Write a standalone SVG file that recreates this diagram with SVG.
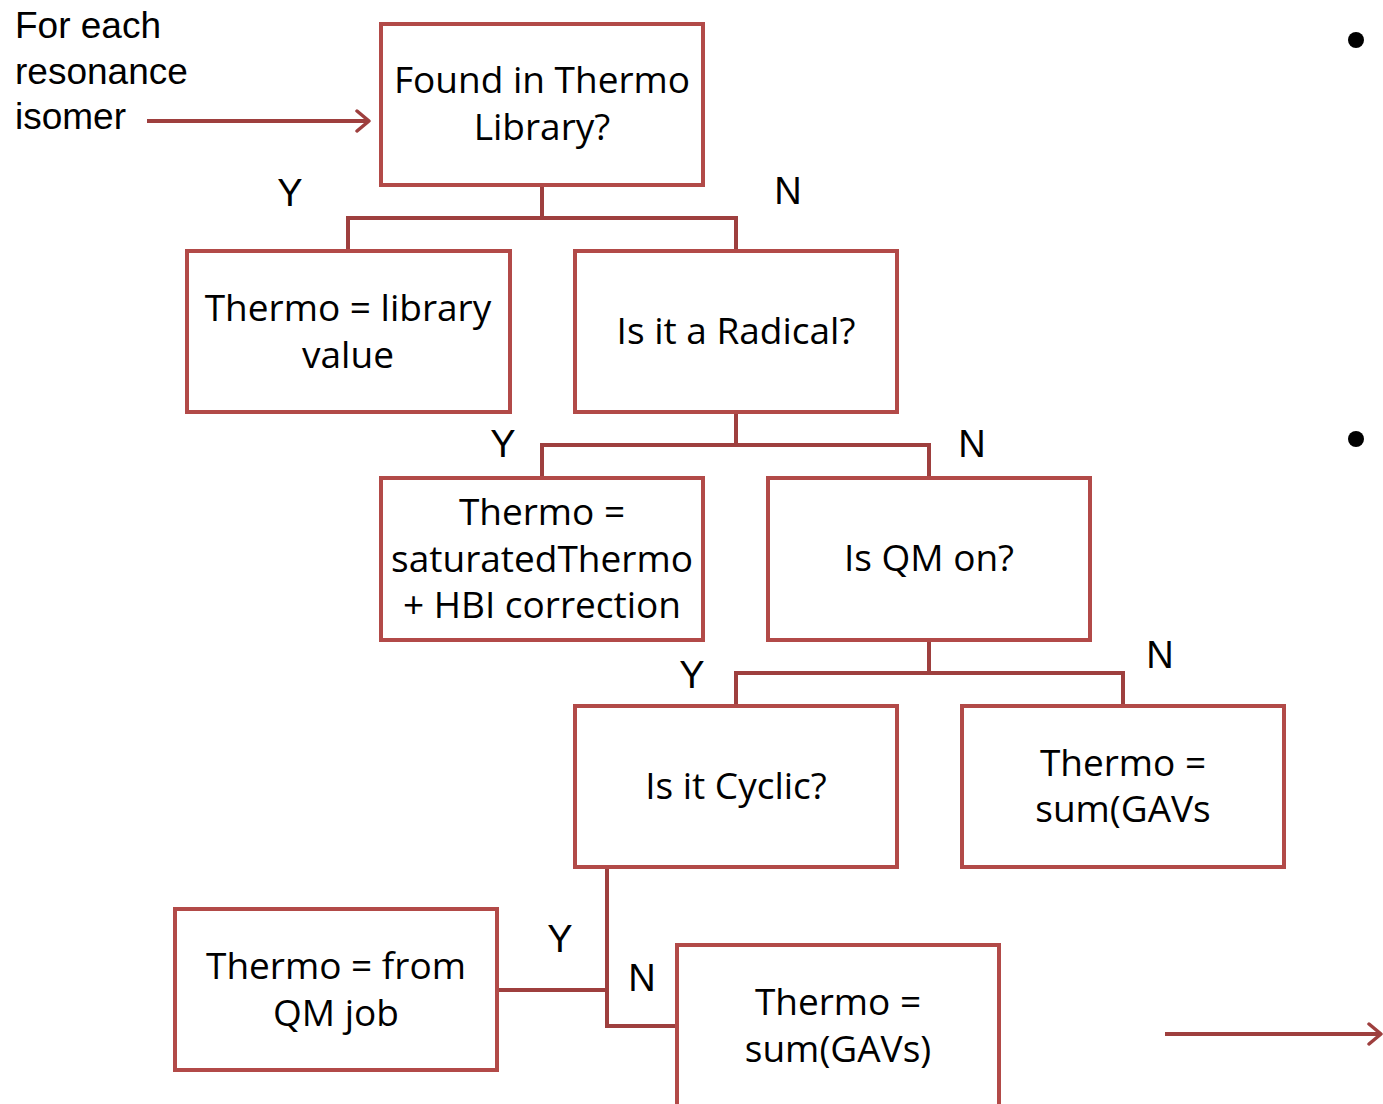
<svg xmlns="http://www.w3.org/2000/svg" width="1383" height="1104" viewBox="0 0 1383 1104">
<defs>
<style>
.box{fill:#fff;stroke:#B24A48;stroke-width:4}
.conn{fill:none;stroke:#9E3F3E;stroke-width:4}
.t{font-family:"Open Sans","Noto Sans",sans-serif;font-size:37px;fill:#000;text-anchor:middle}
.yn{font-family:"Liberation Sans",Arial,sans-serif;font-size:38px;fill:#000;text-anchor:middle}
.lt{font-family:"Liberation Sans",Arial,sans-serif;font-size:37px;fill:#000}
</style>
<marker id="arr" markerWidth="16" markerHeight="24" refX="14" refY="12" orient="auto" markerUnits="userSpaceOnUse" viewBox="0 0 16 24">
<path d="M2,2 L14,12 L2,22" fill="none" stroke="#9E3F3E" stroke-width="3.5" stroke-linecap="round" stroke-linejoin="round"/>
</marker>
</defs>
<rect width="1383" height="1104" fill="#fff"/>
<g id="connectors">
<path class="conn" d="M542,185 V218 M348,251 V218 H736 V251"/>
<path class="conn" d="M736,412 V445 M542,478 V445 H929 V478"/>
<path class="conn" d="M929,640 V673 M736,706 V673 H1123 V706"/>
<path class="conn" d="M607,867 V1026 H677 M497,990 H607"/>
<line class="conn" x1="147" y1="121" x2="369" y2="121" marker-end="url(#arr)"/>
<line class="conn" x1="1165" y1="1034" x2="1381" y2="1034" marker-end="url(#arr)"/>
</g>
<g id="intro">
<text class="lt" x="15" y="38">For each</text>
<text class="lt" x="15" y="84">resonance</text>
<text class="lt" x="15" y="129">isomer</text>
</g>
<g id="bullets">
<circle cx="1356" cy="40" r="8" fill="#000"/>
<circle cx="1356" cy="439" r="8" fill="#000"/>
</g>
<g id="labels">
<text class="yn" x="290" y="206">Y</text>
<text class="yn" x="788" y="204">N</text>
<text class="yn" x="503" y="457">Y</text>
<text class="yn" x="972" y="457">N</text>
<text class="yn" x="692" y="688">Y</text>
<text class="yn" x="1160" y="668">N</text>
<text class="yn" x="560" y="952">Y</text>
<text class="yn" x="642" y="991">N</text>
</g>
<g id="n1">
<rect class="box" x="381" y="24" width="322" height="161"/>
<text class="t" x="542" y="93">Found in Thermo</text>
<text class="t" x="542" y="140">Library?</text>
</g>
<g id="n2">
<rect class="box" x="187" y="251" width="323" height="161"/>
<text class="t" x="348" y="321">Thermo = library</text>
<text class="t" x="348" y="368">value</text>
</g>
<g id="n3">
<rect class="box" x="575" y="251" width="322" height="161"/>
<text class="t" x="736" y="344">Is it a Radical?</text>
</g>
<g id="n4">
<rect class="box" x="381" y="478" width="322" height="162"/>
<text class="t" x="542" y="525">Thermo =</text>
<text class="t" x="542" y="572">saturatedThermo</text>
<text class="t" x="542" y="618">+ HBI correction</text>
</g>
<g id="n5">
<rect class="box" x="768" y="478" width="322" height="162"/>
<text class="t" x="929" y="571">Is QM on?</text>
</g>
<g id="n6">
<rect class="box" x="575" y="706" width="322" height="161"/>
<text class="t" x="736" y="799">Is it Cyclic?</text>
</g>
<g id="n7">
<rect class="box" x="962" y="706" width="322" height="161"/>
<text class="t" x="1123" y="776">Thermo =</text>
<text class="t" x="1123" y="822">sum(GAVs</text>
</g>
<g id="n8">
<rect class="box" x="175" y="909" width="322" height="161"/>
<text class="t" x="336" y="979">Thermo = from</text>
<text class="t" x="336" y="1026">QM job</text>
</g>
<g id="n9">
<rect class="box" x="677" y="945" width="322" height="175"/>
<text class="t" x="838" y="1015">Thermo =</text>
<text class="t" x="838" y="1062">sum(GAVs)</text>
</g>
</svg>
